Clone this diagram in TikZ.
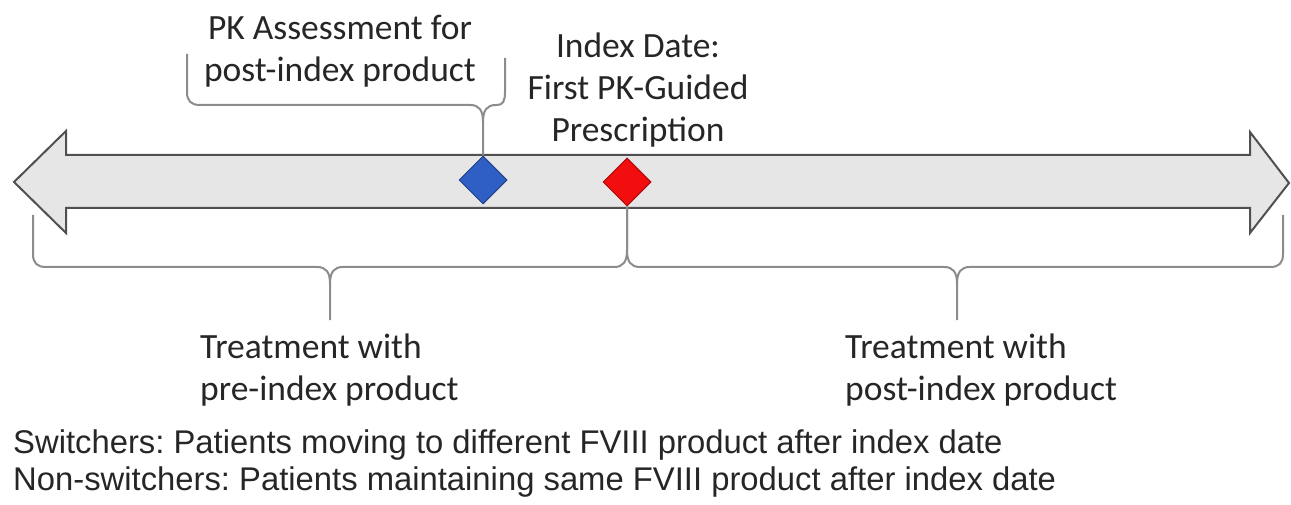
\documentclass[tikz,border=0pt]{standalone}
\usepackage{fontspec}
\setmainfont{Carlito}
\newfontfamily\arialf{Liberation Sans}
\usetikzlibrary{shapes.geometric}
\frenchspacing
\definecolor{arrowfill}{HTML}{E6E6E6}
\definecolor{arrowline}{HTML}{505050}
\definecolor{bracecol}{HTML}{8C8C8C}
\definecolor{pkblue}{HTML}{2F5FC4}
\definecolor{pkred}{HTML}{F20E0E}
\definecolor{txt}{HTML}{262626}
\tikzset{
  bigarrow/.style={fill=arrowfill, draw=arrowline, line width=2pt, line join=miter},
  brace/.style={draw=bracecol, line width=2pt},
  marker/.style={diamond, minimum width=48pt, minimum height=48pt, inner sep=0pt, line width=1pt},
  label/.style={font=\fontsize{35.5}{42}\selectfont, text=txt, inner sep=0pt},
  note/.style={font=\arialf\fontsize{32.8}{37}\selectfont, text=txt, inner sep=0pt, anchor=base west}
}
\begin{document}
\begin{tikzpicture}[x=1pt,y=-1pt]
\useasboundingbox (0,0) rectangle (1291,505);
% double arrow
\draw[bigarrow] (14,182) -- (66,131) -- (66,155) -- (1250,155) -- (1250,132) -- (1289,183)
  -- (1250,233) -- (1250,208) -- (66,208) -- (66,233) -- cycle;
% markers
\node[marker, fill=pkblue, draw=pkblue!70!black] (pk) at (483,180) {};
\node[marker, fill=pkred, draw=pkred!70!black] (idx) at (627,182) {};
% top brace
\draw[brace] (187,54) -- (187,92) .. controls (187,101) and (191,105) .. (200,105)
  -- (470,105) .. controls (479,105) and (483,110) .. (483,122) -- (pk.north);
\draw[brace] (483,122) .. controls (483,110) and (487,105) .. (496,105)
  -- (497,105) .. controls (503,105) and (505,101) .. (505,92) -- (505,58);
% bottom braces
\coordinate (lbtip) at (330,320);
\coordinate (rbtip) at (957,320);
\draw[brace] (33,215) -- (33,254) .. controls (33,263) and (37,267) .. (46,267)
  -- (317,267) .. controls (326,267) and (330,272) .. (330,284) -- (lbtip);
\draw[brace] (330,284) .. controls (330,272) and (334,267) .. (343,267)
  -- (614,267) .. controls (623,267) and (627,262) .. (627,250) -- (idx.south);
\draw[brace] (idx.south) -- (627,250) .. controls (627,262) and (631,267) .. (640,267)
  -- (944,267) .. controls (953,267) and (957,272) .. (957,284) -- (rbtip);
\draw[brace] (957,284) .. controls (957,272) and (961,267) .. (970,267)
  -- (1270,267) .. controls (1279,267) and (1283,263) .. (1283,254) -- (1283,215);
% labels
\node[label, anchor=base, align=center] (pklab) at (340,82) {PK Assessment for\\post-index product};
\node[label, anchor=base, align=center] (idxlab) at (638,142) {Index Date:\\First PK-Guided\\Prescription};
\node[label, anchor=base west, align=left] (prelab) at (200,400) {Treatment with\\pre-index product};
\node[label, anchor=base west, align=left] (postlab) at (845,400) {Treatment with\\post-index product};
\node[note] (sw) at (13,453) {Switchers: Patients moving to different FVIII product after index date};
\node[note] (nsw) at (13,490) {Non-switchers: Patients maintaining same FVIII product after index date};
\end{tikzpicture}
\end{document}
